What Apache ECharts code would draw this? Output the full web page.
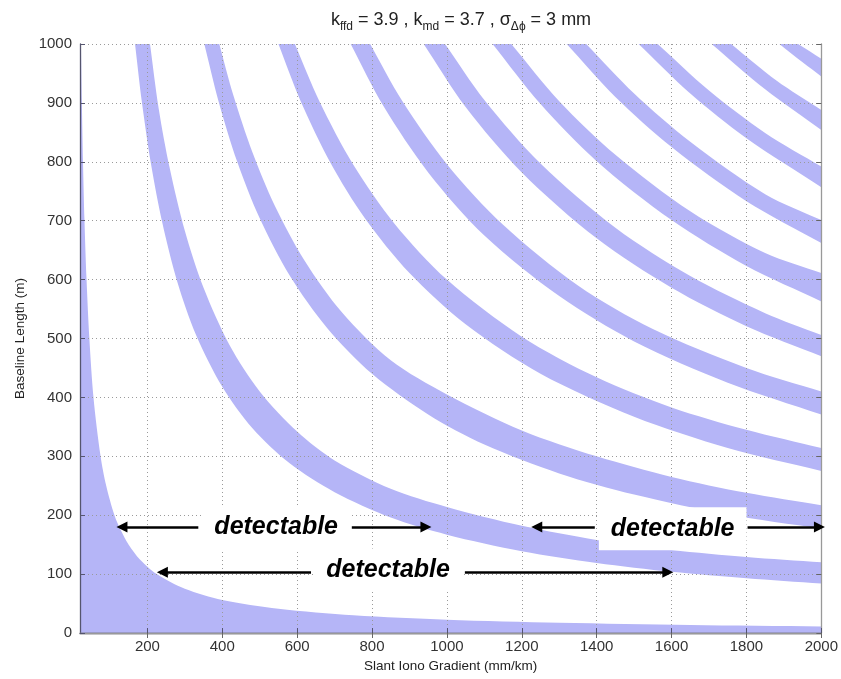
<!DOCTYPE html>
<html>
<head>
<meta charset="utf-8">
<title>detectable bands</title>
<script src="https://cdn.jsdelivr.net/npm/echarts@6/dist/echarts.min.js"></script>
<style>
html, body { margin: 0; padding: 0; background: #fff; }
#chart { width: 841px; height: 679px; }
</style>
</head>
<body>
<div id="chart"></div>
<script>
// axis ranges and ticks
var X_MIN = 20, X_MAX = 2000, Y_MIN = 0, Y_MAX = 1000;
var xTicks = [200, 400, 600, 800, 1000, 1200, 1400, 1600, 1800, 2000];

// band next to the axes: its upper edge
var band1Edge = [[22.5,1000],[25,900],[28,800],[32,700],[37.5,600],[45,500],[56,400],[75,300],[90,250],[112,200],[130,173],[150,150],[180,125],[225,100],[300,75],[400,56],[550,41],[750,30],[1000,22.5],[1300,17.3],[1650,13.6],[2000,11.2]];

// curved bands: lower and upper edge, [gradient, baseline]
var band2Lower = [[167,1000],[185,903],[210,795],[240,696],[280,596],[330,506],[400,418],[480,348],[580,288],[700,239],[850,196],[1000,167],[1200,139],[1400,119],[1600,104],[1800,93],[2000,84]];
var band2Upper = [[207,1000],[230,891],[260,788],[300,683],[350,586],[420,488],[500,410],[600,342],[700,293],[850,245],[1000,214],[1200,182],[1400,158],[1600,141],[1800,129],[2000,120]];
var band3Lower = [[352,1000],[390,903],[440,800],[500,704],[580,607],[680,518],[800,440],[950,371],[1100,320],[1300,271],[1500,235],[1750,201],[2000,177]];
var band3Upper = [[392,1000],[430,912],[480,817],[540,726],[620,632],[720,544],[850,463],[1000,405],[1200,344],[1400,300],[1600,265],[1800,238],[2000,217]];
var band4Lower = [[550,1000],[610,902],[690,797],[780,705],[900,611],[1050,524],[1250,440],[1500,367],[1750,314],[2000,275]];
var band4Upper = [[594,1000],[660,902],[750,795],[860,695],[1000,600],[1200,503],[1400,434],[1600,383],[1800,345],[2000,314]];
var band5Lower = [[743,1000],[830,895],[950,782],[1100,675],[1300,572],[1500,495],[1750,425],[2000,371]];
var band5Upper = [[795,1000],[880,904],[1000,796],[1150,693],[1350,590],[1550,516],[1800,450],[2000,410]];
var band6Lower = [[938,1000],[1050,893],[1200,782],[1400,670],[1600,586],[1800,521],[2000,470]];
var band6Upper = [[995,1000],[1100,905],[1250,797],[1450,688],[1650,606],[1850,543],[2000,506]];
var band7Lower = [[1122,1000],[1250,898],[1400,801],[1600,701],[1800,623],[2000,563]];
var band7Upper = [[1172,1000],[1300,903],[1450,812],[1650,716],[1850,645],[2000,611]];
var band8Lower = [[1320,1000],[1450,910],[1600,825],[1800,733],[2000,662]];
var band8Upper = [[1372,1000],[1500,916],[1650,834],[1850,745],[2000,701]];
var band9Lower = [[1512,1000],[1650,916],[1800,840],[2000,757]];
var band9Upper = [[1563,1000],[1700,921],[1850,849],[2000,792]];
var band10Lower = [[1707,1000],[1850,923],[2000,854]];
var band10Upper = [[1759,1000],[1880,938],[2000,888]];
var band11Lower = [[1888,1000],[1950,969],[2000,945]];
var band11Upper = [[1938,1000],[2000,975]];

// annotations
var labelText = 'detectable';
var labelPoints = [[544,179],[843,107],[1603,177]];
var arrowLines = [
    [[336,180],[132,180]],
    [[746,180],[944,180]],
    [[1395,180],[1240,180]],
    [[1803,180],[1995,180]],
    [[637,103],[240,103]],
    [[1048,103],[1590,103]]
];

var BAND_COLOR = '#b5b5f7';
var FONT = 'Liberation Sans, Arial, sans-serif';

// corners are doubled so the smoothing keeps them sharp
function dup(p) { return [p, p]; }
function bandPolygon(lower, upper) {
    var pts = [];
    pts = pts.concat(dup(lower[0]));
    for (var i = 1; i < lower.length - 1; i++) pts.push(lower[i]);
    pts = pts.concat(dup(lower[lower.length - 1]));
    pts = pts.concat(dup(upper[upper.length - 1]));
    for (var j = upper.length - 2; j > 0; j--) pts.push(upper[j]);
    pts = pts.concat(dup(upper[0]));
    return pts;
}
function edgePolygon(edge) {
    var pts = [];
    pts = pts.concat(dup([X_MIN, Y_MIN]), dup([X_MIN, Y_MAX]), dup(edge[0]));
    for (var i = 1; i < edge.length - 1; i++) pts.push(edge[i]);
    pts = pts.concat(dup(edge[edge.length - 1]), dup([X_MAX, Y_MIN]));
    return pts;
}

var polygons = [
    edgePolygon(band1Edge),
    bandPolygon(band2Lower, band2Upper),
    bandPolygon(band3Lower, band3Upper),
    bandPolygon(band4Lower, band4Upper),
    bandPolygon(band5Lower, band5Upper),
    bandPolygon(band6Lower, band6Upper),
    bandPolygon(band7Lower, band7Upper),
    bandPolygon(band8Lower, band8Upper),
    bandPolygon(band9Lower, band9Upper),
    bandPolygon(band10Lower, band10Upper),
    bandPolygon(band11Lower, band11Upper)
];

function plainNum(v) { return String(v); }

var myChart = echarts.init(document.getElementById('chart'), null, { renderer: 'canvas' });

var option = {
    animation: false,
    backgroundColor: '#fff',
    title: {
        text: '{n|k}{s|ffd}{n| = 3.9 , k}{s|md}{n| = 3.7 , σ}{s|Δϕ}{n| = 3 mm}',
        left: 456,
        top: 6,
        textAlign: 'center',
        textStyle: {
            fontWeight: 'normal',
            rich: {
                n: { fontFamily: FONT, fontSize: 18, fontWeight: 'normal', color: '#222', verticalAlign: 'top', lineHeight: 19 },
                s: { fontFamily: FONT, fontSize: 12, fontWeight: 'normal', color: '#222', verticalAlign: 'top', lineHeight: 12, padding: [10, 0, 0, 0] }
            }
        }
    },
    grid: { left: 80, right: 19, top: 44, bottom: 46, containLabel: false },
    xAxis: [{
        type: 'value', min: X_MIN, max: X_MAX, z: 3,
        name: 'Slant Iono Gradient (mm/km)', nameLocation: 'middle', nameGap: 25,
        nameTextStyle: { fontFamily: FONT, fontSize: 13.5, color: '#222' },
        axisLine: { lineStyle: { color: '#55556e', width: 1.3 } },
        axisTick: { inside: true, length: 5, customValues: xTicks, lineStyle: { color: '#55556e' } },
        axisLabel: { customValues: xTicks, formatter: plainNum, fontFamily: FONT, fontSize: 15, color: '#333', margin: 6 },
        splitLine: { show: true, lineStyle: { type: [1, 3], color: '#9a9a9a', width: 1 } }
    }, {
        type: 'value', min: X_MIN, max: X_MAX, position: 'top', z: 3,
        axisLine: { lineStyle: { color: '#999', width: 1.3 } },
        axisTick: { inside: true, length: 5, customValues: xTicks, lineStyle: { color: '#666' } },
        axisLabel: { show: false },
        splitLine: { show: false }
    }],
    yAxis: [{
        type: 'value', min: Y_MIN, max: Y_MAX, interval: 100, z: 3,
        name: 'Baseline Length (m)', nameLocation: 'middle', nameGap: 44,
        nameTextStyle: { fontFamily: FONT, fontSize: 13.5, color: '#222' },
        axisLine: { show: true, lineStyle: { color: '#55556e', width: 1.3 } },
        axisTick: { show: true, inside: true, length: 5, lineStyle: { color: '#55556e' } },
        axisLabel: { formatter: plainNum, fontFamily: FONT, fontSize: 15, color: '#333', margin: 8 },
        splitLine: { show: true, lineStyle: { type: [1, 3], color: '#9a9a9a', width: 1 } }
    }, {
        type: 'value', min: Y_MIN, max: Y_MAX, interval: 100, position: 'right', z: 3,
        axisLine: { show: true, lineStyle: { color: '#999', width: 1.3 } },
        axisTick: { show: true, inside: true, length: 5, lineStyle: { color: '#666' } },
        axisLabel: { show: false },
        splitLine: { show: false }
    }],
    series: [{
        type: 'custom',
        name: 'bands',
        xAxisIndex: 0,
        yAxisIndex: 0,
        z: 1,
        clip: true,
        silent: true,
        data: polygons.map(function (p) { return p[0]; }),
        renderItem: function (params, api) {
            var pts = polygons[params.dataIndex].map(function (p) { return api.coord(p); });
            return {
                type: 'polygon',
                shape: { points: pts, smooth: 0.3 },
                style: { fill: BAND_COLOR }
            };
        }
    }, {
        type: 'scatter',
        name: 'labels',
        xAxisIndex: 0,
        yAxisIndex: 0,
        z: 5,
        silent: true,
        symbolSize: 0,
        itemStyle: { opacity: 1 },
        data: labelPoints,
        label: {
            show: true,
            position: 'inside',
            formatter: labelText,
            fontFamily: FONT,
            fontSize: 25,
            fontWeight: 'bold',
            fontStyle: 'italic',
            color: '#000',
            opacity: 1,
            backgroundColor: '#fff',
            padding: [7, 12, 7, 12],
            lineHeight: 29
        },
        markLine: {
            silent: true,
            z: 6,
            symbol: ['none', 'triangle'],
            symbolSize: 11,
            label: { show: false },
            lineStyle: { color: '#000', width: 2.5, type: 'solid', opacity: 1 },
            data: arrowLines.map(function (a) {
                return [{ coord: a[0] }, { coord: a[1] }];
            })
        }
    }]
};

myChart.setOption(option);
</script>
</body>
</html>
